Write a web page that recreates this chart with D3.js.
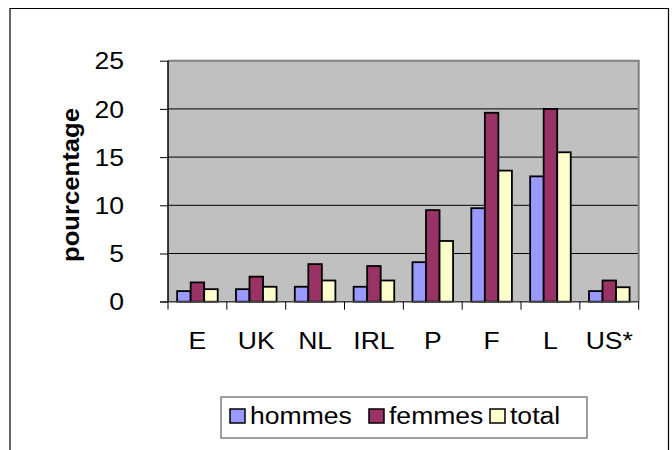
<!DOCTYPE html>
<html><head><meta charset="utf-8">
<script src="https://cdn.jsdelivr.net/npm/d3@7"></script>
<style>
html,body{margin:0;padding:0;background:#fff;}
svg{display:block;font-family:"Liberation Sans",Arial,sans-serif;}
</style></head>
<body>
<svg id="chart" width="672" height="450"></svg>
<script>
const categories = ["E","UK","NL","IRL","P","F","L","US*"];
const seriesNames = ["hommes","femmes","total"];
const hommes = [1.1, 1.3, 1.55, 1.55, 4.1, 9.7, 13.0, 1.1];
const femmes = [2.0, 2.6, 3.9, 3.7, 9.5, 19.6, 20.0, 2.2];
const total  = [1.3, 1.55, 2.2, 2.2, 6.3, 13.6, 15.5, 1.5];
const yTicks = [0, 5, 10, 15, 20, 25];
const colors = ["#9999FF", "#993366", "#FFFFCC"];
const seriesValues = [hommes, femmes, total];

(function(){
const svg = d3.select("#chart");
const SX = 1.13;
const FS = 23.5;

// outer frame
svg.append("path").attr("d","M10,452 L10,8.5 L668.5,8.5 L668.5,452")
  .attr("fill","none").attr("stroke","#000").attr("stroke-width",1.2);

const pL = 168, pR = 638.7, pT = 60.7, pB = 301.7;
const x0 = d3.scaleBand().domain(categories).range([pL, pR]).paddingInner(0).paddingOuter(0);
const groupW = x0.bandwidth() * 0.69;
const x1 = d3.scaleBand().domain(seriesNames).range([0, groupW]).padding(0);
const y = d3.scaleLinear().domain([0, 25]).range([pB, pT]);

// plot background
svg.append("rect").attr("x", pL).attr("y", pT).attr("width", pR-pL).attr("height", pB-pT)
  .attr("fill", "#C0C0C0");

// gridlines
svg.append("g").selectAll("line").data(yTicks.filter(d => d > 0 && d < 25)).join("line")
  .attr("x1", pL).attr("x2", pR).attr("y1", d => y(d)).attr("y2", d => y(d))
  .attr("stroke", "#000").attr("stroke-width", 1);

// plot border top & right (gray)
svg.append("path").attr("d", `M${pL},${pT} L${pR},${pT} L${pR},${pB}`)
  .attr("fill","none").attr("stroke","#808080").attr("stroke-width",2);

// bars
const g = svg.append("g");
categories.forEach((c, i) => {
  const off = x0(c) + (x0.bandwidth() - groupW) / 2;
  seriesNames.forEach((s, j) => {
    const v = seriesValues[j][i];
    g.append("rect")
      .attr("x", off + x1(s)).attr("y", y(v))
      .attr("width", x1.bandwidth()).attr("height", y(0) - y(v))
      .attr("fill", colors[j]).attr("stroke", "#000").attr("stroke-width", 1.8);
  });
});

// y axis
const yAxis = svg.append("g").attr("transform", `translate(${pL},0)`)
  .call(d3.axisLeft(y).tickValues(yTicks).tickSize(8).tickPadding(0));
yAxis.select(".domain").attr("stroke", "#000").attr("stroke-width", 1.5).attr("d", `M0,${pB}V${pT}`);
yAxis.selectAll(".tick line").attr("stroke", "#000").attr("stroke-width", 1);
yAxis.selectAll(".tick text")
  .attr("x", 0).attr("dy", "0.35em")
  .attr("text-anchor", "end")
  .attr("transform", `translate(-44,0) scale(${SX},1)`)
  .attr("font-size", FS).attr("font-family", "Liberation Sans, Arial, sans-serif").attr("fill", "#000");

// x axis line
svg.append("line").attr("x1", 160).attr("x2", pR).attr("y1", pB).attr("y2", pB)
  .attr("stroke", "#404040").attr("stroke-width", 1.5);
// x boundary ticks
const bounds = categories.map(c => x0(c)).concat([x0.range()[1]]);
svg.append("g").selectAll("line").data(bounds).join("line")
  .attr("x1", d => d).attr("x2", d => d).attr("y1", pB).attr("y2", pB + 8)
  .attr("stroke", "#000").attr("stroke-width", 1);
// x labels via axis
const xAxis = svg.append("g").attr("transform", `translate(0,${pB})`)
  .call(d3.axisBottom(x0).tickSize(0).tickPadding(0));
xAxis.select(".domain").remove();
xAxis.selectAll(".tick text")
  .attr("y", 0).attr("dy", 0)
  .attr("transform", `translate(0,47.5) scale(${SX},1)`)
  .attr("font-size", FS).attr("font-family", "Liberation Sans, Arial, sans-serif").attr("fill", "#000");

// y title
svg.append("text")
  .attr("transform", `translate(79,185) rotate(-90)`)
  .attr("text-anchor", "middle")
  .attr("font-size", 23).attr("font-weight", "bold")
  .attr("textLength", 154).attr("lengthAdjust", "spacingAndGlyphs")
  .text("pourcentage");

// legend
const legend = svg.append("g");
legend.append("rect").attr("x", 221).attr("y", 397).attr("width", 366).attr("height", 41)
  .attr("fill", "#fff").attr("stroke", "#808080").attr("stroke-width", 1.5);
const legX = [230, 369, 490];
seriesNames.forEach((s, j) => {
  legend.append("rect").attr("x", legX[j]).attr("y", 409).attr("width", 15).attr("height", 14)
    .attr("fill", colors[j]).attr("stroke", "#000").attr("stroke-width", 1.5);
  legend.append("text")
    .attr("transform", `translate(${legX[j] + 20},423.5) scale(${SX},1)`)
    .attr("font-size", FS).attr("fill", "#000")
    .text(s);
});
})();
</script>
</body></html>
